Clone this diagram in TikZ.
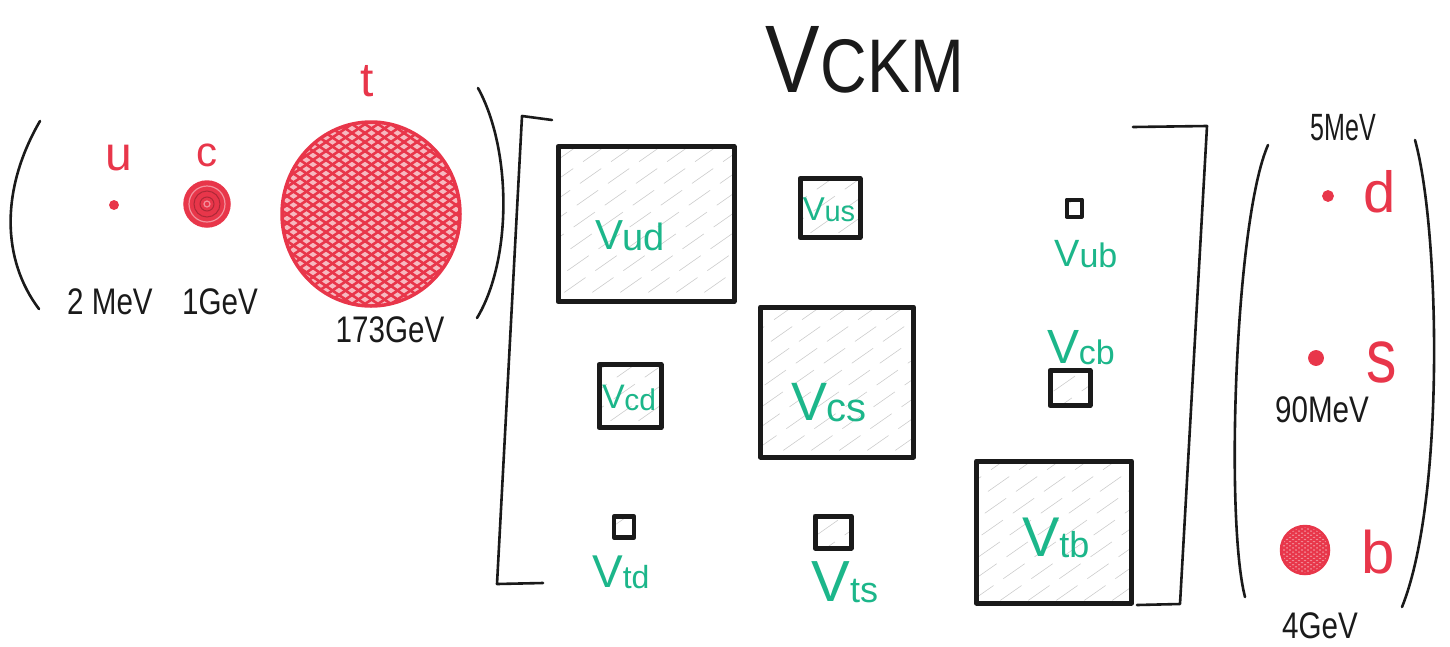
\documentclass[tikz,border=0pt]{standalone}
\usepackage{fontspec}
\setmainfont{Liberation Sans}
\usepackage{graphicx}
\usetikzlibrary{shapes.geometric}
\definecolor{qred}{HTML}{E8364A}
\definecolor{vgreen}{HTML}{1CB68A}
\definecolor{ink}{HTML}{1A1A1A}
\newcommand\fs[1]{\fontsize{#1}{#1}\selectfont}
\newcommand\Vq[3]{{\fs{#1}V}\kern-0.04em\raisebox{-0.12em}{\fs{#2}#3}}
\newcommand\hand[1]{\scalebox{0.8}[1]{\fs{37}#1}}
\begin{document}
\begin{tikzpicture}[x=1pt,y=-1pt,
  ink/.style={draw=ink, line width=2.6pt, line cap=round, line join=round},
  cell/.style={draw=ink, line width=5pt, line join=round, inner sep=0pt,
    path picture={
      \foreach \k in {-320,-292,...,320}
        \draw[gray!40, line width=0.6pt, dash pattern=on 26pt off 12pt]
          ([xshift=\k pt]path picture bounding box.center) ++(-160pt,-112pt) -- ++(320pt,224pt);}},
  vlab/.style={text=vgreen, inner sep=0pt},
  mass/.style={text=ink, inner sep=0pt},
  qlab/.style={text=qred, inner sep=0pt},
  dot/.style={circle, fill=qred, draw=qred, line width=0.8pt, inner sep=0pt},
  xhatch/.style={path picture={
      \foreach \k in {-240,-227,...,240}{
        \draw[qred, line width=2.6pt]
          ([xshift=\k pt]path picture bounding box.center) ++(-130pt,-90pt) -- ++(260pt,180pt);
        \draw[qred, line width=2.6pt]
          ([xshift=\k pt]path picture bounding box.center) ++(-130pt,90pt) -- ++(260pt,-180pt);}}},
  sxhatch/.style={path picture={
      \foreach \k in {-60,-54,...,60}{
        \draw[qred, line width=1.8pt]
          ([xshift=\k pt]path picture bounding box.center) ++(-40pt,-28pt) -- ++(80pt,56pt);
        \draw[qred, line width=1.8pt]
          ([xshift=\k pt]path picture bounding box.center) ++(-40pt,28pt) -- ++(80pt,-56pt);}}}
]
\useasboundingbox (0,0) rectangle (1450,646);

% title
\node[text=ink, inner sep=0pt] (title) at (865,60)
  {\scalebox{0.85}[1]{{\fs{96}V}\kern0.02em{\fs{76}CKM}}};

% up-type quarks
\draw[ink] (40,121) .. controls (0,190) and (2,260) .. (39,309);
\draw[ink] (478,88) .. controls (512,150) and (512,260) .. (477,318);

\node[qlab] (ul) at (119,158) {\fs{48}u};
\node[dot, minimum size=9pt] (u) at (114,205) {};
\node[mass] (um) at (110,302) {\hand{2 MeV}};

\node[qlab] (cl) at (207,155) {\fs{42}c};
\node[circle, minimum size=46pt, fill=qred, draw=qred, line width=1.5pt, inner sep=0pt,
  path picture={\draw[qred!75!black, line width=1pt] (path picture bounding box.center) circle (7pt) circle (13pt);
                \draw[qred!55, line width=1.2pt] (path picture bounding box.center) circle (3pt) circle (18pt);}] (c) at (207,204) {};
\node[mass] (cm) at (220,302) {\hand{1GeV}};

\node[qlab] (tl) at (367,81) {\fs{48}t};
\node[ellipse, minimum width=178pt, minimum height=184pt, fill=qred!35, draw=qred,
  line width=3.5pt, inner sep=0pt, xhatch] (t) at (371,214) {};
\node[mass] (tm) at (390,330) {\hand{173GeV}};

% CKM matrix brackets
\draw[ink] (552,120) -- (522,116) -- (497,584) -- (543,583);
\draw[ink] (1133,127) -- (1207,126) -- (1180,604) -- (1137,605);

% cells
\node[cell, minimum width=176pt, minimum height=155pt] (ud) at (646,224) {};
\node[vlab] (udl) at (630,236) {\Vq{42}{38}{ud}};

\node[cell, minimum width=60pt, minimum height=59pt] (us) at (830,208) {};
\node[vlab] (usl) at (829,210) {\Vq{33}{29}{us}};

\node[cell, minimum width=15pt, minimum height=17pt, line width=4pt] (ub) at (1074,208) {};
\node[vlab] (ubl) at (1086,254) {\Vq{38}{34}{ub}};

\node[cell, minimum width=62pt, minimum height=63pt] (cd) at (630,396) {};
\node[vlab] (cdl) at (629,398) {\Vq{34}{30}{cd}};

\node[cell, minimum width=153pt, minimum height=150pt] (cs) at (837,382) {};
\node[vlab] (csl) at (829,403) {\Vq{54}{40}{cs}};

\node[cell, minimum width=40pt, minimum height=35pt] (cb) at (1070,388) {};
\node[vlab] (cbl) at (1081,348) {\Vq{48}{34}{cb}};

\node[cell, minimum width=20pt, minimum height=21pt, line width=4.5pt] (td) at (624,527) {};
\node[vlab] (tdl) at (621,572) {\Vq{46}{32}{td}};

\node[cell, minimum width=36pt, minimum height=32pt] (ts) at (833,532) {};
\node[vlab] (tsl) at (845,582) {\Vq{58}{36}{ts}};

\node[cell, minimum width=155pt, minimum height=142pt] (tb) at (1054,532) {};
\node[vlab] (tbl) at (1056,538) {\Vq{56}{36}{tb}};

% down-type quarks
\draw[ink] (1268,145) .. controls (1235,220) and (1225,520) .. (1245,597);
\draw[ink] (1415,140) .. controls (1440,230) and (1445,500) .. (1402,607);

\node[mass] (dm) at (1343,128) {\scalebox{0.66}[1]{\fs{38}5MeV}};
\node[dot, minimum size=11pt] (d) at (1328,196) {};
\node[qlab] (dl) at (1380,192) {\fs{58}d};

\node[dot, minimum size=15pt] (s) at (1316,358) {};
\node[qlab] (sl) at (1382,362) {\scalebox{0.8}[1]{\fs{76}s}};
\node[mass] (sm) at (1322,410) {\hand{90MeV}};

\node[circle, minimum size=48pt, fill=qred!55, draw=qred, line width=2.5pt, inner sep=0pt, sxhatch] (b) at (1305,550) {};
\node[qlab] (bl) at (1378,552) {\fs{60}b};
\node[mass] (bm) at (1320,626) {\hand{4GeV}};
\end{tikzpicture}
\end{document}
